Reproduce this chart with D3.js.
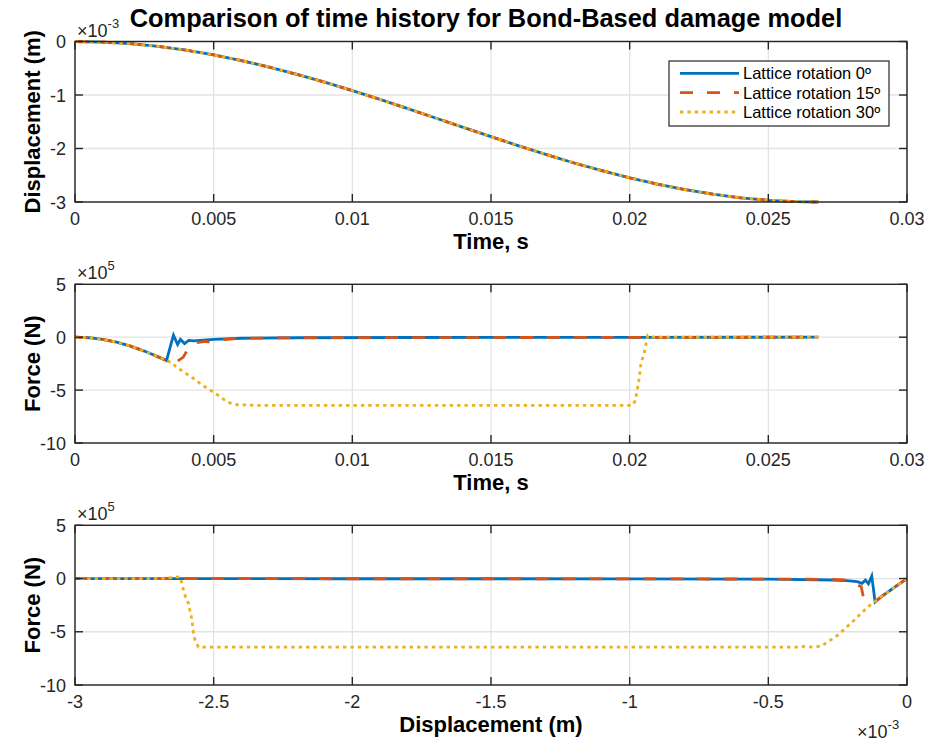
<!DOCTYPE html>
<html>
<head>
<meta charset="utf-8">
<script src="https://cdn.jsdelivr.net/npm/d3@7"></script>
<style>
  body { margin: 0; background: #fff; }
  text { font-family: "Liberation Sans", Arial, Helvetica, sans-serif; }
</style>
</head>
<body>
<div id="main"></div>
<script>
// panel 1: displacement (x1e-3 m) vs time (s), all three rotations overlap
var disp_time = [0, 0.001, 0.002, 0.003, 0.004, 0.005, 0.006, 0.007, 0.008, 0.009, 0.010, 0.011, 0.012, 0.013, 0.014,
  0.015, 0.016, 0.017, 0.018, 0.019, 0.020, 0.021, 0.022, 0.023, 0.024, 0.025, 0.026, 0.0268]
var disp_vals = [0, -0.010, -0.041, -0.092, -0.162, -0.25, -0.356, -0.478, -0.613, -0.76, -0.918, -1.083, -1.255, -1.43, -1.605,
  -1.779, -1.95, -2.115, -2.271, -2.415, -2.547, -2.666, -2.769, -2.853, -2.922, -2.968, -2.994, -3.0]

// panel 2: force (x1e5 N) vs time (s)
var f0_time = [0, 0.0005, 0.001, 0.0015, 0.002, 0.0025, 0.003, 0.0033, 0.00355, 0.0037, 0.0038, 0.00395, 0.0041, 0.0043,
  0.0045, 0.005, 0.006, 0.008, 0.012, 0.02, 0.0268]
var f0_force = [0, -0.05, -0.21, -0.47, -0.84, -1.31, -1.86, -2.2, 0.2, -0.7, -0.2, -0.6, -0.3, -0.35,
  -0.3, -0.2, -0.1, -0.05, -0.03, -0.02, 0]
var f15_time = [0, 0.0005, 0.001, 0.0015, 0.002, 0.0025, 0.003, 0.0033, 0.00355, 0.0039, 0.0041, 0.0044, 0.0047, 0.0049,
  0.0052, 0.006, 0.008, 0.0268]
var f15_force = [0, -0.05, -0.21, -0.47, -0.84, -1.31, -1.86, -2.2, -2.5, -1.9, -1.0, -0.5, -0.4, -0.5,
  -0.25, -0.1, -0.05, 0]
var f30_time = [0, 0.0005, 0.001, 0.0015, 0.002, 0.0025, 0.003, 0.0033, 0.00355, 0.0036, 0.00385, 0.00427, 0.00463, 0.005,
  0.0054, 0.00565, 0.006, 0.0062, 0.0064, 0.008, 0.012, 0.016, 0.0201, 0.0202, 0.0203, 0.02035, 0.0204, 0.0205, 0.02055,
  0.0206, 0.02065, 0.0207, 0.021, 0.0268]
var f30_force = [0, -0.05, -0.21, -0.47, -0.84, -1.31, -1.86, -2.2, -2.5, -2.7, -3.16, -3.9, -4.6, -5.2,
  -5.95, -6.3, -6.45, -6.35, -6.45, -6.45, -6.45, -6.45, -6.45, -6.0, -4.6, -3.8, -2.6, -1.7, -1.2,
  -0.5, 0.15, 0.05, 0, 0]

// panel 3: force (x1e5 N) vs displacement (x1e-3 m)
var g0_disp = [0, -0.03, -0.06, -0.09, -0.115, -0.127, -0.139, -0.15, -0.162, -0.18, -0.218, -0.27, -0.5, -1, -1.5, -2, -2.5, -3.0]
var g0_force = [0, -0.55, -1.1, -1.65, -2.2, 0.24, -0.5, -0.15, -0.45, -0.3, -0.2, -0.14, -0.05, -0.03, -0.02, -0.02, -0.01, 0]
var g15_disp = [0, -0.03, -0.06, -0.09, -0.121, -0.157, -0.165, -0.19, -0.22, -0.27, -0.5, -1, -1.5, -2, -2.5, -3.0]
var g15_force = [0, -0.55, -1.1, -1.65, -2.28, -1.77, -0.77, -0.45, -0.14, -0.08, -0.05, -0.03, -0.02, -0.02, -0.01, 0]
var g30_disp = [0, -0.03, -0.06, -0.09, -0.141, -0.19, -0.25, -0.31, -0.36, -0.38, -0.40, -0.5, -1, -1.5, -2, -2.555,
  -2.567, -2.573, -2.576, -2.579, -2.585, -2.591, -2.6, -2.607, -2.615, -2.621, -2.646, -2.7, -3.0]
var g30_force = [0, -0.55, -1.1, -1.65, -2.66, -3.9, -5.33, -6.37, -6.45, -6.35, -6.45, -6.45, -6.45, -6.45, -6.45, -6.45,
  -5.8, -5.1, -4.4, -3.75, -3.1, -2.3, -1.87, -1.25, -0.45, 0.17, 0.1, 0, 0]

var series_names = ['Lattice rotation 0º', 'Lattice rotation 15º', 'Lattice rotation 30º']
var series_colors = ['#0072BD', '#D95319', '#EDB120']
var series_dash = [null, '13,14', '3.4,4']

var time_ticks = [0, 0.005, 0.01, 0.015, 0.02, 0.025, 0.03]
var time_tick_labels = ['0', '0.005', '0.01', '0.015', '0.02', '0.025', '0.03']
var disp_ticks = [-3, -2.5, -2, -1.5, -1, -0.5, 0]
var disp_tick_labels = ['-3', '-2.5', '-2', '-1.5', '-1', '-0.5', '0']
var disp_y_ticks = [0, -1, -2, -3]
var force_ticks = [5, 0, -5, -10]

var W = 927
var H = 741
var svg = d3.select('div#main').append('svg')
  .attr('width', W)
  .attr('height', H)
  .style('display', 'block')

var left = 75
var right = 907
var ink = '#262626'

function panel (opt) {
  var x = d3.scaleLinear().domain(opt.xdomain).range([left, right])
  var y = d3.scaleLinear().domain(opt.ydomain).range([opt.bottom, opt.top])
  var g = svg.append('g')

  // grid
  opt.xticks.forEach(function (t) {
    g.append('line').attr('x1', x(t)).attr('x2', x(t)).attr('y1', opt.top).attr('y2', opt.bottom)
      .attr('stroke', '#e3e3e3').attr('stroke-width', 1.3)
  })
  opt.yticks.forEach(function (t) {
    g.append('line').attr('x1', left).attr('x2', right).attr('y1', y(t)).attr('y2', y(t))
      .attr('stroke', '#e3e3e3').attr('stroke-width', 1.3)
  })

  // data
  var line = d3.line().x(function (d) { return x(d[0]) }).y(function (d) { return y(d[1]) })
  opt.series.forEach(function (s, i) {
    g.append('path')
      .attr('d', line(d3.zip(s[0], s[1])))
      .attr('fill', 'none')
      .attr('stroke', series_colors[i])
      .attr('stroke-width', 2.8)
      .attr('stroke-dasharray', series_dash[i])
  })

  // box + inward ticks on all sides
  g.append('rect').attr('x', left).attr('y', opt.top).attr('width', right - left).attr('height', opt.bottom - opt.top)
    .attr('fill', 'none').attr('stroke', ink).attr('stroke-width', 1.4)
  var tl = 8
  opt.xticks.forEach(function (t, i) {
    g.append('line').attr('x1', x(t)).attr('x2', x(t)).attr('y1', opt.bottom).attr('y2', opt.bottom - tl)
      .attr('stroke', ink).attr('stroke-width', 1.4)
    g.append('line').attr('x1', x(t)).attr('x2', x(t)).attr('y1', opt.top).attr('y2', opt.top + tl)
      .attr('stroke', ink).attr('stroke-width', 1.4)
    g.append('text').text(opt.xlabels[i])
      .attr('x', x(t)).attr('y', opt.bottom + 23)
      .attr('text-anchor', 'middle').style('font-size', '18px').attr('fill', ink)
  })
  opt.yticks.forEach(function (t) {
    g.append('line').attr('x1', left).attr('x2', left + tl).attr('y1', y(t)).attr('y2', y(t))
      .attr('stroke', ink).attr('stroke-width', 1.4)
    g.append('line').attr('x1', right).attr('x2', right - tl).attr('y1', y(t)).attr('y2', y(t))
      .attr('stroke', ink).attr('stroke-width', 1.4)
    g.append('text').text(String(t))
      .attr('x', left - 9).attr('y', y(t) + 6.5)
      .attr('text-anchor', 'end').style('font-size', '18px').attr('fill', ink)
  })

  // axis labels
  g.append('text').text(opt.xtitle)
    .attr('x', (left + right) / 2).attr('y', opt.bottom + 47)
    .attr('text-anchor', 'middle').style('font-size', '22px').style('font-weight', 'bold').attr('fill', '#000')
  g.append('text').text(opt.ytitle)
    .attr('transform', 'translate(40,' + ((opt.top + opt.bottom) / 2) + ') rotate(-90)')
    .attr('text-anchor', 'middle').style('font-size', '22px').style('font-weight', 'bold').attr('fill', '#000')

  // exponent above y axis
  var m = g.append('text').attr('x', left + 2).attr('y', opt.top - 5).attr('fill', ink).style('font-size', '18px')
  m.append('tspan').text('×10')
  m.append('tspan').text(opt.yexp).attr('dy', -9).style('font-size', '13px')
  return g
}

panel({
  top: 41.5, bottom: 202,
  xdomain: [0, 0.03], ydomain: [-3, 0],
  xticks: time_ticks, xlabels: time_tick_labels, yticks: disp_y_ticks,
  xtitle: 'Time, s', ytitle: 'Displacement (m)', yexp: '-3',
  series: [[disp_time, disp_vals], [disp_time, disp_vals], [disp_time, disp_vals]]
})

panel({
  top: 284.3, bottom: 443,
  xdomain: [0, 0.03], ydomain: [-10, 5],
  xticks: time_ticks, xlabels: time_tick_labels, yticks: force_ticks,
  xtitle: 'Time, s', ytitle: 'Force (N)', yexp: '5',
  series: [[f0_time, f0_force], [f15_time, f15_force], [f30_time, f30_force]]
})

panel({
  top: 525.3, bottom: 685,
  xdomain: [-3, 0], ydomain: [-10, 5],
  xticks: disp_ticks, xlabels: disp_tick_labels, yticks: force_ticks,
  xtitle: 'Displacement (m)', ytitle: 'Force (N)', yexp: '5',
  series: [[g0_disp, g0_force], [g15_disp, g15_force], [g30_disp, g30_force]]
})

// exponent under bottom x axis
var mx = svg.append('text').attr('x', 857).attr('y', 738).attr('fill', ink).style('font-size', '18px')
mx.append('tspan').text('×10')
mx.append('tspan').text('-3').attr('dy', -9).style('font-size', '13px')

// title
svg.append('text').text('Comparison of time history for Bond-Based damage model')
  .attr('x', 486).attr('y', 27)
  .attr('text-anchor', 'middle').style('font-size', '25.4px').style('font-weight', 'bold').attr('fill', '#000')

// legend
var lg = svg.append('g')
lg.append('rect').attr('x', 669).attr('y', 61).attr('width', 220).attr('height', 65)
  .attr('fill', '#fff').attr('stroke', ink).attr('stroke-width', 1.2)
var legend_y = d3.scalePoint().domain(series_names).range([73.3, 112])
series_names.forEach(function (name, i) {
  var yy = legend_y(name)
  lg.append('line').attr('x1', 680).attr('x2', 739).attr('y1', yy).attr('y2', yy)
    .attr('stroke', series_colors[i]).attr('stroke-width', 2.8).attr('stroke-dasharray', series_dash[i])
  lg.append('text').text(name).attr('x', 743).attr('y', yy + 6)
    .style('font-size', '16.5px').attr('fill', '#000')
})
</script>
</body>
</html>
